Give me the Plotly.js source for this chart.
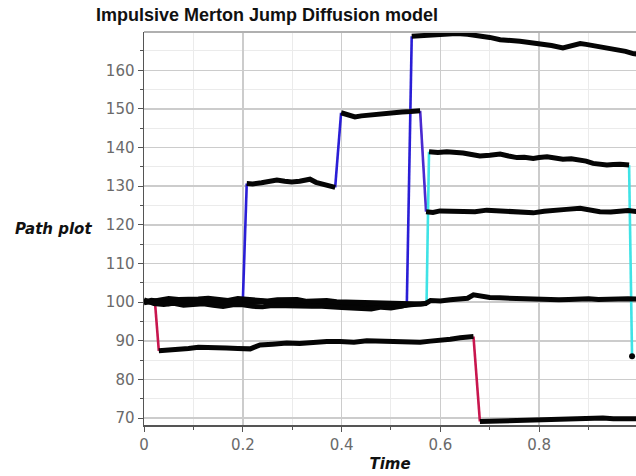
<!DOCTYPE html>
<html>
<head>
<meta charset="utf-8">
<script src="https://cdn.plot.ly/plotly-3.0.1.min.js"></script>
<style>html,body{margin:0;padding:0;background:#fff;}#chart{width:636px;height:476px;}</style>
</head>
<body>
<div id="chart"></div>
<script>
// ---- Diffusion (black) path segments ----
var pathA_t = [0, 0.015, 0.03, 0.045, 0.06, 0.08, 0.10, 0.12, 0.14, 0.16, 0.18, 0.20, 0.22, 0.24, 0.26, 0.28, 0.30, 0.32, 0.34, 0.36, 0.38, 0.40, 0.42, 0.44, 0.46, 0.48, 0.50, 0.52, 0.54, 0.56, 0.57, 0.58, 0.60, 0.62, 0.64, 0.655, 0.667, 0.68, 0.70, 0.72, 0.74, 0.76, 0.78, 0.80, 0.82, 0.84, 0.86, 0.88, 0.90, 0.92, 0.94, 0.96, 0.98, 1.0];
var pathA_v = [100, 100.5, 100.2, 100.6, 100.1, 99.8, 100.3, 100.0, 100.4, 100.1, 100.0, 99.7, 99.9, 100.2, 99.9, 100.1, 100.0, 99.7, 99.6, 99.8, 99.4, 99.6, 99.5, 99.3, 99.4, 99.1, 99.2, 99.0, 99.3, 99.4, 99.6, 100.4, 100.3, 100.6, 100.8, 101.0, 101.9, 101.5, 101.2, 101.1, 101.0, 100.7, 100.8, 100.5, 100.4, 100.6, 100.7, 100.9, 100.9, 100.7, 100.8, 101.0, 100.9, 100.8];
var pathA2_t = [0, 0.02, 0.04, 0.06, 0.08, 0.10, 0.12, 0.14, 0.16, 0.18, 0.20, 0.22, 0.24, 0.26, 0.28, 0.30, 0.32, 0.34, 0.36, 0.38, 0.40, 0.42, 0.44, 0.46, 0.48, 0.50, 0.52, 0.532];
var pathA2_v = [100.6, 99.6, 99.4, 99.7, 99.2, 99.5, 99.6, 99.2, 98.9, 99.3, 99.3, 98.9, 98.8, 99.1, 99.0, 98.8, 98.7, 98.9, 98.9, 98.6, 98.6, 98.5, 98.4, 98.2, 98.7, 98.5, 98.9, 99.3];
var pathA3_t = [0, 0.025, 0.05, 0.07, 0.09, 0.11, 0.13, 0.15, 0.17, 0.19, 0.21, 0.23, 0.25, 0.27, 0.29, 0.31, 0.33, 0.35, 0.37, 0.39, 0.41, 0.43, 0.45, 0.47, 0.49, 0.51, 0.53, 0.55, 0.56, 0.572];
var pathA3_v = [99.8, 100.4, 100.9, 100.7, 100.6, 100.8, 101.0, 100.6, 100.4, 100.9, 100.7, 100.5, 100.3, 100.6, 100.5, 100.7, 100.2, 100.3, 100.4, 100.1, 100.0, 99.9, 99.8, 100.0, 99.9, 99.6, 99.6, 99.4, 99.5, 99.7];
var pathA4_t = [0, 0.025, 0.05, 0.075, 0.10, 0.125, 0.15, 0.175, 0.20];
var pathA4_v = [100.2, 99.8, 99.6, 100.2, 100.5, 100.1, 99.9, 100.3, 100.0];

var pathB_t = [0.030, 0.045, 0.06, 0.073, 0.09, 0.11, 0.127, 0.147, 0.167, 0.19, 0.215, 0.225, 0.235, 0.26, 0.289, 0.315, 0.342, 0.37, 0.397, 0.425, 0.451, 0.478, 0.504, 0.53, 0.559, 0.58, 0.599, 0.62, 0.640, 0.655, 0.667];
var pathB_v = [87.4, 87.5, 87.8, 87.9, 88.0, 88.3, 88.2, 87.9, 88.1, 88.0, 87.9, 88.4, 88.9, 89.1, 89.4, 89.3, 89.6, 89.8, 89.8, 89.6, 90.0, 89.9, 90.0, 89.7, 89.6, 89.9, 90.0, 90.4, 90.8, 90.9, 91.1];

var pathC_t = [0.680, 0.70, 0.727, 0.75, 0.77, 0.795, 0.82, 0.84, 0.862, 0.88, 0.90, 0.929, 0.95, 0.97, 1.0];
var pathC_v = [69.1, 69.2, 69.3, 69.2, 69.5, 69.6, 69.5, 69.8, 69.8, 70.0, 69.9, 70.0, 69.8, 69.9, 69.8];

var pathD_t = [0.208, 0.22, 0.238, 0.25, 0.269, 0.285, 0.299, 0.315, 0.336, 0.348, 0.360, 0.375, 0.387];
var pathD_v = [130.7, 130.6, 130.9, 131.2, 131.6, 131.3, 131.1, 131.3, 131.8, 131.0, 130.5, 130.2, 129.7];

var pathE_t = [0.399, 0.412, 0.427, 0.44, 0.453, 0.47, 0.488, 0.505, 0.522, 0.54, 0.559];
var pathE_v = [149.0, 148.6, 147.9, 148.2, 148.4, 148.6, 148.8, 148.9, 149.2, 149.3, 149.5];

var pathF_t = [0.571, 0.585, 0.599, 0.62, 0.646, 0.67, 0.694, 0.715, 0.735, 0.76, 0.788, 0.81, 0.828, 0.855, 0.883, 0.90, 0.923, 0.945, 0.964, 0.98, 1.0];
var pathF_v = [123.4, 123.2, 123.6, 123.5, 123.6, 123.4, 123.8, 123.7, 123.6, 123.3, 123.1, 123.5, 123.8, 124.0, 124.3, 123.8, 123.4, 123.3, 123.6, 123.7, 123.4];

var pathG_t = [0.542, 0.56, 0.585, 0.61, 0.633, 0.655, 0.680, 0.70, 0.721, 0.74, 0.761, 0.78, 0.802, 0.825, 0.848, 0.865, 0.883, 0.895, 0.909, 0.925, 0.943, 0.963, 0.975, 0.990, 1.0];
var pathG_v = [168.8, 169.0, 169.2, 169.3, 169.5, 169.3, 169.0, 168.5, 167.9, 167.8, 167.5, 167.2, 166.9, 166.4, 165.8, 166.3, 166.9, 166.7, 166.4, 166.0, 165.5, 165.2, 164.9, 164.3, 164.2];

var pathH_t = [0.577, 0.595, 0.613, 0.63, 0.646, 0.663, 0.680, 0.70, 0.721, 0.738, 0.755, 0.77, 0.788, 0.80, 0.816, 0.832, 0.848, 0.865, 0.883, 0.895, 0.909, 0.923, 0.937, 0.95, 0.964, 0.982];
var pathH_v = [138.9, 138.7, 138.9, 138.8, 138.6, 138.2, 137.8, 138.0, 138.3, 137.8, 137.4, 137.5, 137.2, 137.4, 137.6, 137.3, 137.0, 137.1, 136.9, 136.5, 135.9, 135.6, 135.5, 135.6, 135.7, 135.5];

var endPoint_t = [0.988];
var endPoint_v = [86.0];

// ---- Jumps (coloured segments) ----
var jumpRed1_t = [0.022, 0.030];   var jumpRed1_v = [100.3, 87.4];
var jumpBlue1_t = [0.200, 0.208];  var jumpBlue1_v = [100.0, 130.7];
var jumpBlue2_t = [0.387, 0.399];  var jumpBlue2_v = [129.7, 149.0];
var jumpBlue3_t = [0.532, 0.542];  var jumpBlue3_v = [99.3, 168.8];
var jumpPurple_t = [0.559, 0.571]; var jumpPurple_v = [149.5, 123.4];
var jumpCyan1_t = [0.572, 0.577];  var jumpCyan1_v = [99.7, 138.9];
var jumpRed2_t = [0.667, 0.680];   var jumpRed2_v = [91.1, 69.1];
var jumpCyan2_t = [0.982, 0.988];  var jumpCyan2_v = [135.5, 86.0];

function black(t, v) {
  return {x: t, y: v, type: 'scatter', mode: 'lines', line: {color: '#050505', width: 5}, showlegend: false, hoverinfo: 'skip'};
}
function jump(t, v, c) {
  return {x: t, y: v, type: 'scatter', mode: 'lines', line: {color: c, width: 2.6}, showlegend: false, hoverinfo: 'skip'};
}

var RED = '#c8164e', BLUE = '#2a1ed6', PURPLE = '#4a2ad0', CYAN = '#3fe3e6';

var data = [
  jump(jumpRed1_t, jumpRed1_v, RED),
  jump(jumpBlue1_t, jumpBlue1_v, BLUE),
  jump(jumpBlue2_t, jumpBlue2_v, BLUE),
  jump(jumpBlue3_t, jumpBlue3_v, BLUE),
  jump(jumpPurple_t, jumpPurple_v, PURPLE),
  jump(jumpCyan1_t, jumpCyan1_v, CYAN),
  jump(jumpRed2_t, jumpRed2_v, RED),
  jump(jumpCyan2_t, jumpCyan2_v, CYAN),
  black(pathA_t, pathA_v),
  black(pathA2_t, pathA2_v),
  black(pathA3_t, pathA3_v),
  black(pathA4_t, pathA4_v),
  black(pathB_t, pathB_v),
  black(pathC_t, pathC_v),
  black(pathD_t, pathD_v),
  black(pathE_t, pathE_v),
  black(pathF_t, pathF_v),
  black(pathG_t, pathG_v),
  black(pathH_t, pathH_v),
  {x: endPoint_t, y: endPoint_v, type: 'scatter', mode: 'markers', marker: {color: '#050505', size: 6}, showlegend: false, hoverinfo: 'skip'}
];

var tickFont = {family: 'DejaVu Sans', size: 15, color: '#6a6a6a'};

var layout = {
  width: 636, height: 476,
  margin: {l: 144, r: 0, t: 32, b: 51, pad: 0},
  paper_bgcolor: '#ffffff', plot_bgcolor: '#ffffff',
  title: {
    text: '<b>Impulsive Merton Jump Diffusion model</b>',
    font: {family: 'Liberation Sans', size: 18, color: '#111111'},
    xref: 'container', x: 267 / 636, xanchor: 'center',
    yref: 'container', y: 1 - 15 / 476, yanchor: 'middle'
  },
  xaxis: {
    range: [0, 0.996], dtick: 0.2, tick0: 0,
    ticks: 'outside', ticklen: 5, tickcolor: '#555555',
    showline: true, linecolor: '#555555', linewidth: 1.5,
    showgrid: true, gridcolor: '#cccccc', gridwidth: 1.5,
    zeroline: false, tickfont: tickFont,
    minor: {dtick: 0.1, showgrid: true, gridcolor: '#ebebeb', gridwidth: 1, ticks: 'outside', ticklen: 3, tickcolor: '#555555'},
    title: {text: '<b><i>Time</i></b>', font: {family: 'DejaVu Sans', size: 15, color: '#111111'}, standoff: 6}
  },
  yaxis: {
    range: [68.2, 169.9], dtick: 10, tick0: 0,
    ticks: 'outside', ticklen: 5, tickcolor: '#555555',
    showline: true, linecolor: '#555555', linewidth: 1.5,
    showgrid: true, gridcolor: '#cccccc', gridwidth: 1.5,
    zeroline: false, tickfont: tickFont,
    minor: {dtick: 5, showgrid: true, gridcolor: '#ebebeb', gridwidth: 1, ticks: 'outside', ticklen: 3, tickcolor: '#555555'}
  },
  shapes: [{
    type: 'line', xref: 'paper', yref: 'paper', x0: 0, x1: 1, y0: 1, y1: 1,
    line: {color: '#b0b0b0', width: 2}
  }],
  annotations: [{
    text: '<b><i>Path plot</i></b>',
    xref: 'paper', yref: 'paper',
    x: (53 - 144) / 492, y: (425 - 229) / 393,
    xanchor: 'center', yanchor: 'middle', showarrow: false,
    font: {family: 'DejaVu Sans', size: 15, color: '#111111'}
  }]
};

Plotly.newPlot('chart', data, layout, {displayModeBar: false, staticPlot: true});
</script>
</body>
</html>
